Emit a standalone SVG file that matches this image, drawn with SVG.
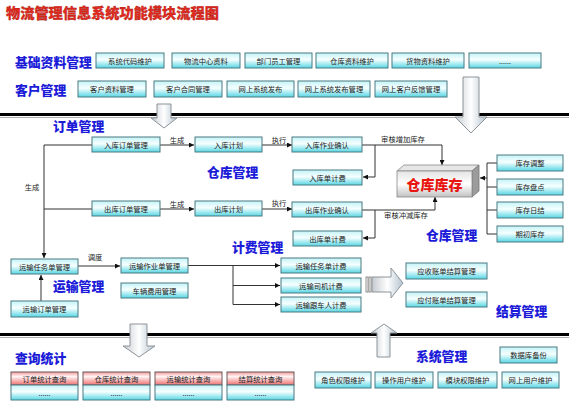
<svg xmlns="http://www.w3.org/2000/svg" width="569" height="406" viewBox="0 0 569 406">
<defs>
<linearGradient id="gc" x1="0" y1="0" x2="0" y2="1">
<stop offset="0" stop-color="#c4f3f7"/><stop offset="0.45" stop-color="#f6ffff"/><stop offset="1" stop-color="#57d6e4"/>
</linearGradient>
<linearGradient id="gr" x1="0" y1="0" x2="0" y2="1">
<stop offset="0" stop-color="#f29a9a"/><stop offset="0.35" stop-color="#fff4f4"/><stop offset="1" stop-color="#ee6f6f"/>
</linearGradient>
<linearGradient id="ga" x1="0" y1="0" x2="1" y2="0">
<stop offset="0" stop-color="#c5cacf"/><stop offset="0.5" stop-color="#ffffff"/><stop offset="1" stop-color="#b3c3cf"/>
</linearGradient>
<linearGradient id="gf" x1="0" y1="0" x2="0" y2="1">
<stop offset="0" stop-color="#e4e4e4"/><stop offset="0.5" stop-color="#ffffff"/><stop offset="1" stop-color="#c2c2c2"/>
</linearGradient>
<linearGradient id="gt" x1="0" y1="0" x2="1" y2="0">
<stop offset="0" stop-color="#7fd0d0"/><stop offset="0.5" stop-color="#1a9a9c"/><stop offset="1" stop-color="#0f7f86"/>
</linearGradient>
<marker id="ah" viewBox="0 0 8 8" refX="8" refY="4" markerWidth="5" markerHeight="5" orient="auto" markerUnits="userSpaceOnUse">
<path d="M0,0 L8,4 L0,8 z" fill="#111"/>
</marker>
<style>
.box{fill:url(#gc);stroke:#4b7b82;stroke-width:1}
.qt{fill:url(#gr);stroke:#6a5a5a;stroke-width:1}
.t{font-family:"Noto Sans CJK SC","Noto Sans",sans-serif;font-size:7.3px;fill:#222;text-anchor:middle;dominant-baseline:central}
.lb{font-family:"Noto Sans CJK SC","Noto Sans",sans-serif;font-size:7.3px;fill:#222;text-anchor:middle;dominant-baseline:central}
.h{font-family:"Noto Sans CJK SC",sans-serif;font-weight:900;font-size:12.8px;fill:#1c1cd8;dominant-baseline:central}
.c{fill:none;stroke:#333;stroke-width:1}
.ca{fill:none;stroke:#333;stroke-width:1;marker-end:url(#ah)}
.blk{fill:url(#ga);stroke:#8c949a;stroke-width:1}
</style>
</defs>
<rect width="569" height="406" fill="#fff"/>

<g id="title">
<text x="6" y="12" font-family="Noto Sans CJK SC,sans-serif" font-weight="900" font-size="14.2" fill="#e52a1e" stroke="#9a1a10" stroke-width="0.3" dominant-baseline="central">物流管理信息系统功能模块流程图</text>
<line x1="0" y1="25" x2="569" y2="25" stroke="url(#gt)" stroke-width="3"/>
</g>

<g id="separators">
<line x1="0" y1="114.5" x2="569" y2="114.5" stroke="#000" stroke-width="3"/>
<line x1="0" y1="117.5" x2="569" y2="117.5" stroke="#999" stroke-width="0.8"/>
<line x1="0" y1="334.5" x2="569" y2="334.5" stroke="#000" stroke-width="3"/>
<line x1="0" y1="337.5" x2="569" y2="337.5" stroke="#999" stroke-width="0.8"/>
</g>

<g id="headings">
<text class="h" x="15" y="61">基础资料管理</text>
<text class="h" x="15" y="89">客户管理</text>
<text class="h" x="53" y="125">订单管理</text>
<text class="h" x="207" y="171">仓库管理</text>
<text class="h" x="426" y="234">仓库管理</text>
<text class="h" x="232" y="246">计费管理</text>
<text class="h" x="53" y="285">运输管理</text>
<text class="h" x="496" y="310">结算管理</text>
<text class="h" x="15" y="357">查询统计</text>
<text class="h" x="416" y="355">系统管理</text>
</g>

<g id="block-arrows">
<path class="blk" d="M157,104 H171 V118 H177 L164,128 L151,118 H157 Z"/>
<path class="blk" d="M463,77 H479 V117 H487 L471,133 L455,117 H463 Z"/>
<path class="blk" d="M130,324 H147 V346 H155 L139,357 L123,346 H130 Z"/>
<path class="blk" d="M377,357 V333 H371 L384,324 L397,333 H390 V357 Z"/>
<path class="blk" d="M372,277 H391 V268 L403,283 L391,298 V292 H372 Z"/>
<rect x="366" y="277" width="2" height="15" fill="#fff" stroke="#777" stroke-width="0.8"/>
<rect x="369" y="277" width="2" height="15" fill="#fff" stroke="#777" stroke-width="0.8"/>
</g>

<g id="connectors">
<line class="ca" x1="160" y1="145" x2="194" y2="145"/>
<line class="ca" x1="262" y1="145" x2="292" y2="145"/>
<line class="ca" x1="160" y1="209" x2="194" y2="209"/>
<line class="ca" x1="262" y1="209" x2="292" y2="209"/>
<polyline class="ca" points="362,145 442,145 442,165"/>
<polyline class="ca" points="375,145 375,177 363,177"/>
<polyline class="ca" points="362,210 435,210 435,197"/>
<polyline class="ca" points="375,210 375,238 363,238"/>
<line class="c" x1="487" y1="163" x2="487" y2="234"/>
<line class="c" x1="487" y1="163" x2="497" y2="163"/>
<line class="c" x1="487" y1="187" x2="497" y2="187"/>
<line class="c" x1="487" y1="210" x2="497" y2="210"/>
<line class="c" x1="487" y1="234" x2="497" y2="234"/>
<line class="ca" x1="487" y1="178" x2="480" y2="178"/>
<line class="ca" x1="44" y1="145" x2="44" y2="258"/>
<line class="c" x1="44" y1="145" x2="92" y2="145"/>
<line class="c" x1="44" y1="209" x2="92" y2="209"/>
<line class="ca" x1="41" y1="301" x2="41" y2="275"/>
<line class="ca" x1="78" y1="266" x2="120" y2="266"/>
<line class="ca" x1="188" y1="265.5" x2="280" y2="265.5"/>
<line class="c" x1="233" y1="265.5" x2="233" y2="304.5"/>
<line class="ca" x1="233" y1="285.5" x2="280" y2="285.5"/>
<line class="ca" x1="233" y1="304.5" x2="280" y2="304.5"/>
<text class="lb" x="177" y="140">生成</text>
<text class="lb" x="279" y="140">执行</text>
<text class="lb" x="177" y="204">生成</text>
<text class="lb" x="279" y="203">执行</text>
<text class="lb" x="403" y="139">审核增加库存</text>
<text class="lb" x="406" y="215">审核冲减库存</text>
<text class="lb" x="32" y="187">生成</text>
<text class="lb" x="95" y="257">调度</text>
</g>

<g id="n-syscode"><rect class="box" x="96" y="53" width="68" height="15"/><text class="t" x="130" y="60.5">系统代码维护</text></g>
<g id="n-center"><rect class="box" x="172" y="53" width="68" height="15"/><text class="t" x="206" y="60.5">物流中心资料</text></g>
<g id="n-staff"><rect class="box" x="245" y="53" width="67" height="15"/><text class="t" x="278.5" y="60.5">部门员工管理</text></g>
<g id="n-whinfo"><rect class="box" x="316" y="53" width="72" height="15"/><text class="t" x="352" y="60.5">仓库资料维护</text></g>
<g id="n-goods"><rect class="box" x="392" y="53" width="72" height="15"/><text class="t" x="428" y="60.5">货物资料维护</text></g>
<g id="n-more"><rect class="box" x="469" y="53" width="72" height="15"/><text class="t" x="505" y="60.5" fill="#888">......</text></g>

<g id="n-custinfo"><rect class="box" x="78" y="81" width="68" height="16"/><text class="t" x="112" y="89">客户资料管理</text></g>
<g id="n-contract"><rect class="box" x="154" y="81" width="68" height="16"/><text class="t" x="188" y="89">客户合同管理</text></g>
<g id="n-publish"><rect class="box" x="227" y="81" width="67" height="16"/><text class="t" x="260.5" y="89">网上系统发布</text></g>
<g id="n-publishmgr"><rect class="box" x="298" y="81" width="72" height="16"/><text class="t" x="334" y="89">网上系统发布管理</text></g>
<g id="n-feedback"><rect class="box" x="375" y="81" width="72" height="16"/><text class="t" x="411" y="89">网上客户反馈管理</text></g>

<g id="n-inorder"><rect class="box" x="92" y="137" width="68" height="15"/><text class="t" x="126" y="144.5">入库订单管理</text></g>
<g id="n-inplan"><rect class="box" x="195" y="137" width="67" height="15"/><text class="t" x="228.5" y="144.5">入库计划</text></g>
<g id="n-inconfirm"><rect class="box" x="292" y="137" width="70" height="15"/><text class="t" x="327" y="144.5">入库作业确认</text></g>
<g id="n-infee"><rect class="box" x="293" y="170" width="69" height="15"/><text class="t" x="327.5" y="177.5">入库单计费</text></g>
<g id="n-outorder"><rect class="box" x="92" y="201" width="68" height="15"/><text class="t" x="126" y="208.5">出库订单管理</text></g>
<g id="n-outplan"><rect class="box" x="195" y="201" width="67" height="15"/><text class="t" x="228.5" y="208.5">出库计划</text></g>
<g id="n-outconfirm"><rect class="box" x="292" y="202" width="70" height="15"/><text class="t" x="327" y="209.5">出库作业确认</text></g>
<g id="n-outfee"><rect class="box" x="293" y="231" width="69" height="15"/><text class="t" x="327.5" y="238.5">出库单计费</text></g>

<g id="n-stock">
<polygon points="397,171 404,165 479,165 472,171" fill="#e6e6e6" stroke="#888" stroke-width="0.8"/>
<polygon points="472,171 479,165 479,191 472,197" fill="#9c9c9c" stroke="#777" stroke-width="0.8"/>
<rect x="397" y="171" width="75" height="26" fill="url(#gf)" stroke="#888" stroke-width="0.8"/>
<text x="434.5" y="184" font-family="Noto Sans CJK SC,sans-serif" font-weight="900" font-size="14" fill="#e8140f" text-anchor="middle" dominant-baseline="central">仓库库存</text>
</g>

<g id="n-adjust"><rect class="box" x="497" y="155" width="66" height="16"/><text class="t" x="530" y="163">库存调整</text></g>
<g id="n-count"><rect class="box" x="497" y="179" width="66" height="16"/><text class="t" x="530" y="187">库存盘点</text></g>
<g id="n-daily"><rect class="box" x="497" y="202" width="66" height="16"/><text class="t" x="530" y="210">库存日结</text></g>
<g id="n-initial"><rect class="box" x="497" y="226" width="66" height="16"/><text class="t" x="530" y="234">期初库存</text></g>

<g id="n-task"><rect class="box" x="11" y="259" width="67" height="15"/><text class="t" x="44.5" y="266.5">运输任务单管理</text></g>
<g id="n-job"><rect class="box" x="121" y="258" width="67" height="15"/><text class="t" x="154.5" y="265.5">运输作业单管理</text></g>
<g id="n-vehicle"><rect class="box" x="121" y="283" width="67" height="15"/><text class="t" x="154.5" y="290.5">车辆费用管理</text></g>
<g id="n-transorder"><rect class="box" x="11" y="301" width="67" height="16"/><text class="t" x="44.5" y="309">运输订单管理</text></g>

<g id="n-taskfee"><rect class="box" x="281" y="258" width="80" height="15"/><text class="t" x="321" y="265.5">运输任务单计费</text></g>
<g id="n-driverfee"><rect class="box" x="281" y="278" width="80" height="15"/><text class="t" x="321" y="285.5">运输司机计费</text></g>
<g id="n-escortfee"><rect class="box" x="281" y="297" width="80" height="15"/><text class="t" x="321" y="304.5">运输跟车人计费</text></g>

<g id="n-receivable"><rect class="box" x="406" y="263" width="81" height="16"/><text class="t" x="446.5" y="271">应收账单结算管理</text></g>
<g id="n-payable"><rect class="box" x="406" y="292" width="81" height="15"/><text class="t" x="446.5" y="299.5">应付账单结算管理</text></g>

<g id="n-q-order"><rect class="qt" x="11" y="372" width="67" height="13"/><rect class="box" x="11" y="385" width="67" height="15"/><text class="t" x="44.5" y="378.5">订单统计查询</text><text class="t" x="44.5" y="392.5" fill="#999">......</text></g>
<g id="n-q-wh"><rect class="qt" x="83" y="372" width="67" height="13"/><rect class="box" x="83" y="385" width="67" height="15"/><text class="t" x="116.5" y="378.5">仓库统计查询</text><text class="t" x="116.5" y="392.5" fill="#999">......</text></g>
<g id="n-q-trans"><rect class="qt" x="155" y="372" width="67" height="13"/><rect class="box" x="155" y="385" width="67" height="15"/><text class="t" x="188.5" y="378.5">运输统计查询</text><text class="t" x="188.5" y="392.5" fill="#999">......</text></g>
<g id="n-q-settle"><rect class="qt" x="227" y="372" width="67" height="13"/><rect class="box" x="227" y="385" width="67" height="15"/><text class="t" x="260.5" y="378.5">结算统计查询</text><text class="t" x="260.5" y="392.5" fill="#999">......</text></g>

<g id="n-backup"><rect class="box" x="500" y="347" width="57" height="16"/><text class="t" x="528.5" y="355">数据库备份</text></g>
<g id="n-role"><rect class="box" x="315" y="372" width="56" height="16"/><text class="t" x="343" y="380">角色权限维护</text></g>
<g id="n-opuser"><rect class="box" x="375" y="372" width="58" height="16"/><text class="t" x="404" y="380">操作用户维护</text></g>
<g id="n-module"><rect class="box" x="438" y="372" width="59" height="16"/><text class="t" x="467.5" y="380">模块权限维护</text></g>
<g id="n-webuser"><rect class="box" x="502" y="372" width="57" height="16"/><text class="t" x="530.5" y="380">网上用户维护</text></g>
</svg>
